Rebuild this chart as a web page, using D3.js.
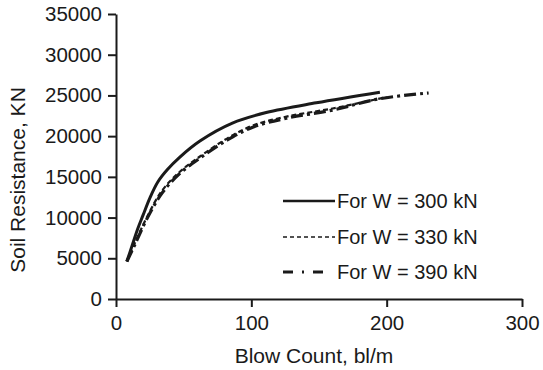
<!DOCTYPE html>
<html>
<head>
<meta charset="utf-8">
<script src="https://cdn.jsdelivr.net/npm/d3@7"></script>
<style>
body { margin: 0; background: #fff; }
svg text { font-family: "Liberation Sans", Arial, sans-serif; fill: #1a1a1a; }
</style>
</head>
<body>
<div id="chart"></div>
<script>
// data
var xTicks = [0, 100, 200, 300];
var yTicks = [0, 5000, 10000, 15000, 20000, 25000, 30000, 35000];
var seriesNames = ['For W = 300 kN', 'For W = 330 kN', 'For W = 390 kN'];

var blow300 = [8, 12, 16, 20, 25, 31, 38, 47, 62, 86, 111, 148, 195];
var res300 = [4600, 6600, 8600, 10300, 12400, 14400, 15900, 17400, 19400, 21600, 22900, 24100, 25400];

var blow330 = [8, 14, 23, 34, 47, 62, 82, 101, 126, 160, 200];
var res330 = [4600, 6900, 10100, 13300, 15600, 17500, 19700, 21300, 22400, 23400, 24800];

var blow390 = [8, 14, 23, 34, 47, 62, 82, 101, 126, 160, 195, 231];
var res390 = [4600, 6700, 9900, 13000, 15400, 17300, 19500, 21100, 22200, 23200, 24600, 25300];

var width = 543, height = 370;
var svg = d3.select('#chart').append('svg')
	.attr('width', width)
	.attr('height', height);

var xScale = d3.scaleLinear().domain([0, 300]).range([116, 522]);
var yScale = d3.scaleLinear().domain([0, 35000]).range([299, 14]);

// x axis
var xAxis = d3.axisBottom(xScale).tickValues(xTicks).tickSize(8).tickSizeOuter(0).tickPadding(8);
svg.append('g')
	.attr('transform', 'translate(0,' + yScale(0) + ')')
	.call(xAxis);
// y axis
var yAxis = d3.axisLeft(yScale).tickValues(yTicks).tickSize(8).tickSizeOuter(0).tickPadding(6).tickFormat(d3.format('d'));
svg.append('g')
	.attr('transform', 'translate(' + xScale(0) + ',0)')
	.call(yAxis);

svg.selectAll('.domain, .tick line')
	.attr('stroke', '#1a1a1a')
	.attr('stroke-width', 2);
svg.selectAll('.tick text')
	.attr('font-size', 20.5)
	.style('font-family', '"Liberation Sans", Arial, sans-serif')
	.attr('fill', '#1a1a1a');

// axis titles
svg.append('text')
	.text('Blow Count, bl/m')
	.attr('x', xScale(150) - 5)
	.attr('y', 363)
	.attr('text-anchor', 'middle')
	.attr('font-size', 21);
svg.append('text')
	.text('Soil Resistance, KN')
	.attr('transform', 'translate(25,' + 180 + ') rotate(-90)')
	.attr('text-anchor', 'middle')
	.attr('font-size', 21);

// curves
var line = d3.line()
	.x(function (d) { return xScale(d[0]); })
	.y(function (d) { return yScale(d[1]); })
	.curve(d3.curveCatmullRom.alpha(0.5));

var series = [
	{ x: blow330, y: res330, dash: '5,3', w: 2.2 },
	{ x: blow390, y: res390, dash: '12,4,3,4', w: 3.2 },
	{ x: blow300, y: res300, dash: null, w: 3 }
];
series.forEach(function (s) {
	var pts = s.x.map(function (v, i) { return [v, s.y[i]]; });
	svg.append('path')
		.datum(pts)
		.attr('d', line)
		.attr('fill', 'none')
		.attr('stroke', '#1a1a1a')
		.attr('stroke-width', s.w)
		.attr('stroke-dasharray', s.dash);
});

// legend
var legendStyles = [
	{ dash: null, w: 2.5, x2: 335 },
	{ dash: '4,3', w: 1.5, x2: 335 },
	{ dash: '10,9,2,9', w: 3, x2: 325 }
];
var legendY = [201, 237, 272];
seriesNames.forEach(function (name, i) {
	svg.append('line')
		.attr('x1', 283)
		.attr('x2', legendStyles[i].x2)
		.attr('y1', legendY[i])
		.attr('y2', legendY[i])
		.attr('stroke', '#1a1a1a')
		.attr('stroke-width', legendStyles[i].w)
		.attr('stroke-dasharray', legendStyles[i].dash);
	svg.append('text')
		.text(name)
		.attr('x', 337)
		.attr('y', legendY[i] + 7)
		.attr('font-size', 20);
});
</script>
</body>
</html>
